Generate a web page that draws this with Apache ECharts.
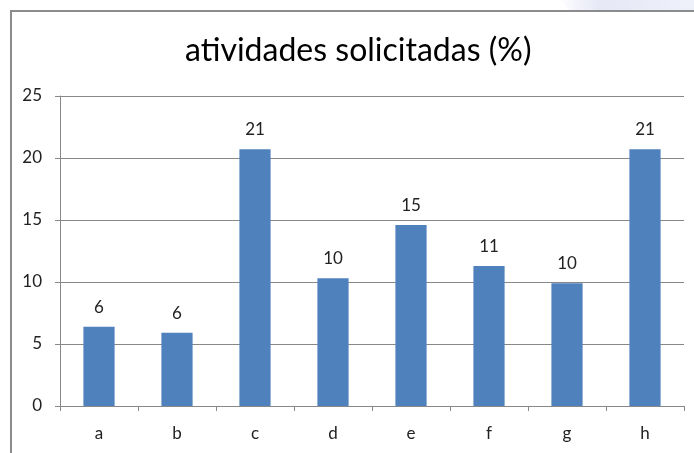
<!DOCTYPE html>
<html><head><meta charset="utf-8">
<script src="https://cdn.jsdelivr.net/npm/echarts@6/dist/echarts.min.js"></script>
<style>html,body{margin:0;padding:0;background:#fff}#c{width:694px;height:453px}</style>
</head><body><div id="c"></div>
<script>
const categories = ['a','b','c','d','e','f','g','h'];
const values = [6.4, 5.9, 20.7, 10.3, 14.6, 11.3, 9.9, 20.7];
const yTicks = [0, 5, 10, 15, 20, 25];
const titleText = 'atividades solicitadas (%)';

const chart = echarts.init(document.getElementById('c'));
const font = 'Lato';
chart.setOption({
  animation: false,
  title: {
    text: titleText, left: 180, top: 30,
    textStyle: {fontFamily: font, fontSize: 32, fontWeight: 'normal', color: '#000'}
  },
  graphic: [
    {type: 'polygon', silent: true, z: -1,
     shape: {points: [[560,0],[694,0],[694,10],[570,10]]},
     style: {fill: new echarts.graphic.LinearGradient(0,0,1,0,[{offset:0,color:'rgba(225,228,245,0)'},{offset:0.3,color:'#e6e8f6'},{offset:1,color:'#eef0fa'}])}},
    {type: 'polyline', silent: true,
     shape: {points: [[11,453],[11,11],[694,11]]},
     style: {stroke: '#8c8c8c', lineWidth: 2, fill: null}}
  ],
  grid: {left: 60, right: 10, top: 96, bottom: 47, containLabel: false},
  xAxis: {
    type: 'category', data: categories,
    axisLine: {lineStyle: {color: '#888', width: 1}},
    axisTick: {show: true, length: 5, lineStyle: {color: '#888'}},
    axisLabel: {fontFamily: font, fontSize: 17, color: '#222', margin: 19}
  },
  yAxis: {
    type: 'value', min: yTicks[0], max: yTicks[yTicks.length-1], interval: 5,
    axisLine: {show: true, lineStyle: {color: '#888'}},
    axisTick: {show: true, length: 5, lineStyle: {color: '#888'}},
    splitLine: {lineStyle: {color: '#888', width: 1}},
    axisLabel: {fontFamily: font, fontSize: 17, color: '#222', margin: 18}
  },
  series: [{
    type: 'bar', data: values, barWidth: '40%',
    itemStyle: {color: '#4f81bd'},
    label: {show: true, position: 'top', distance: 11, fontFamily: font, fontSize: 17, color: '#222',
      formatter: p => String(Math.round(p.value))}
  }]
});
</script></body></html>
